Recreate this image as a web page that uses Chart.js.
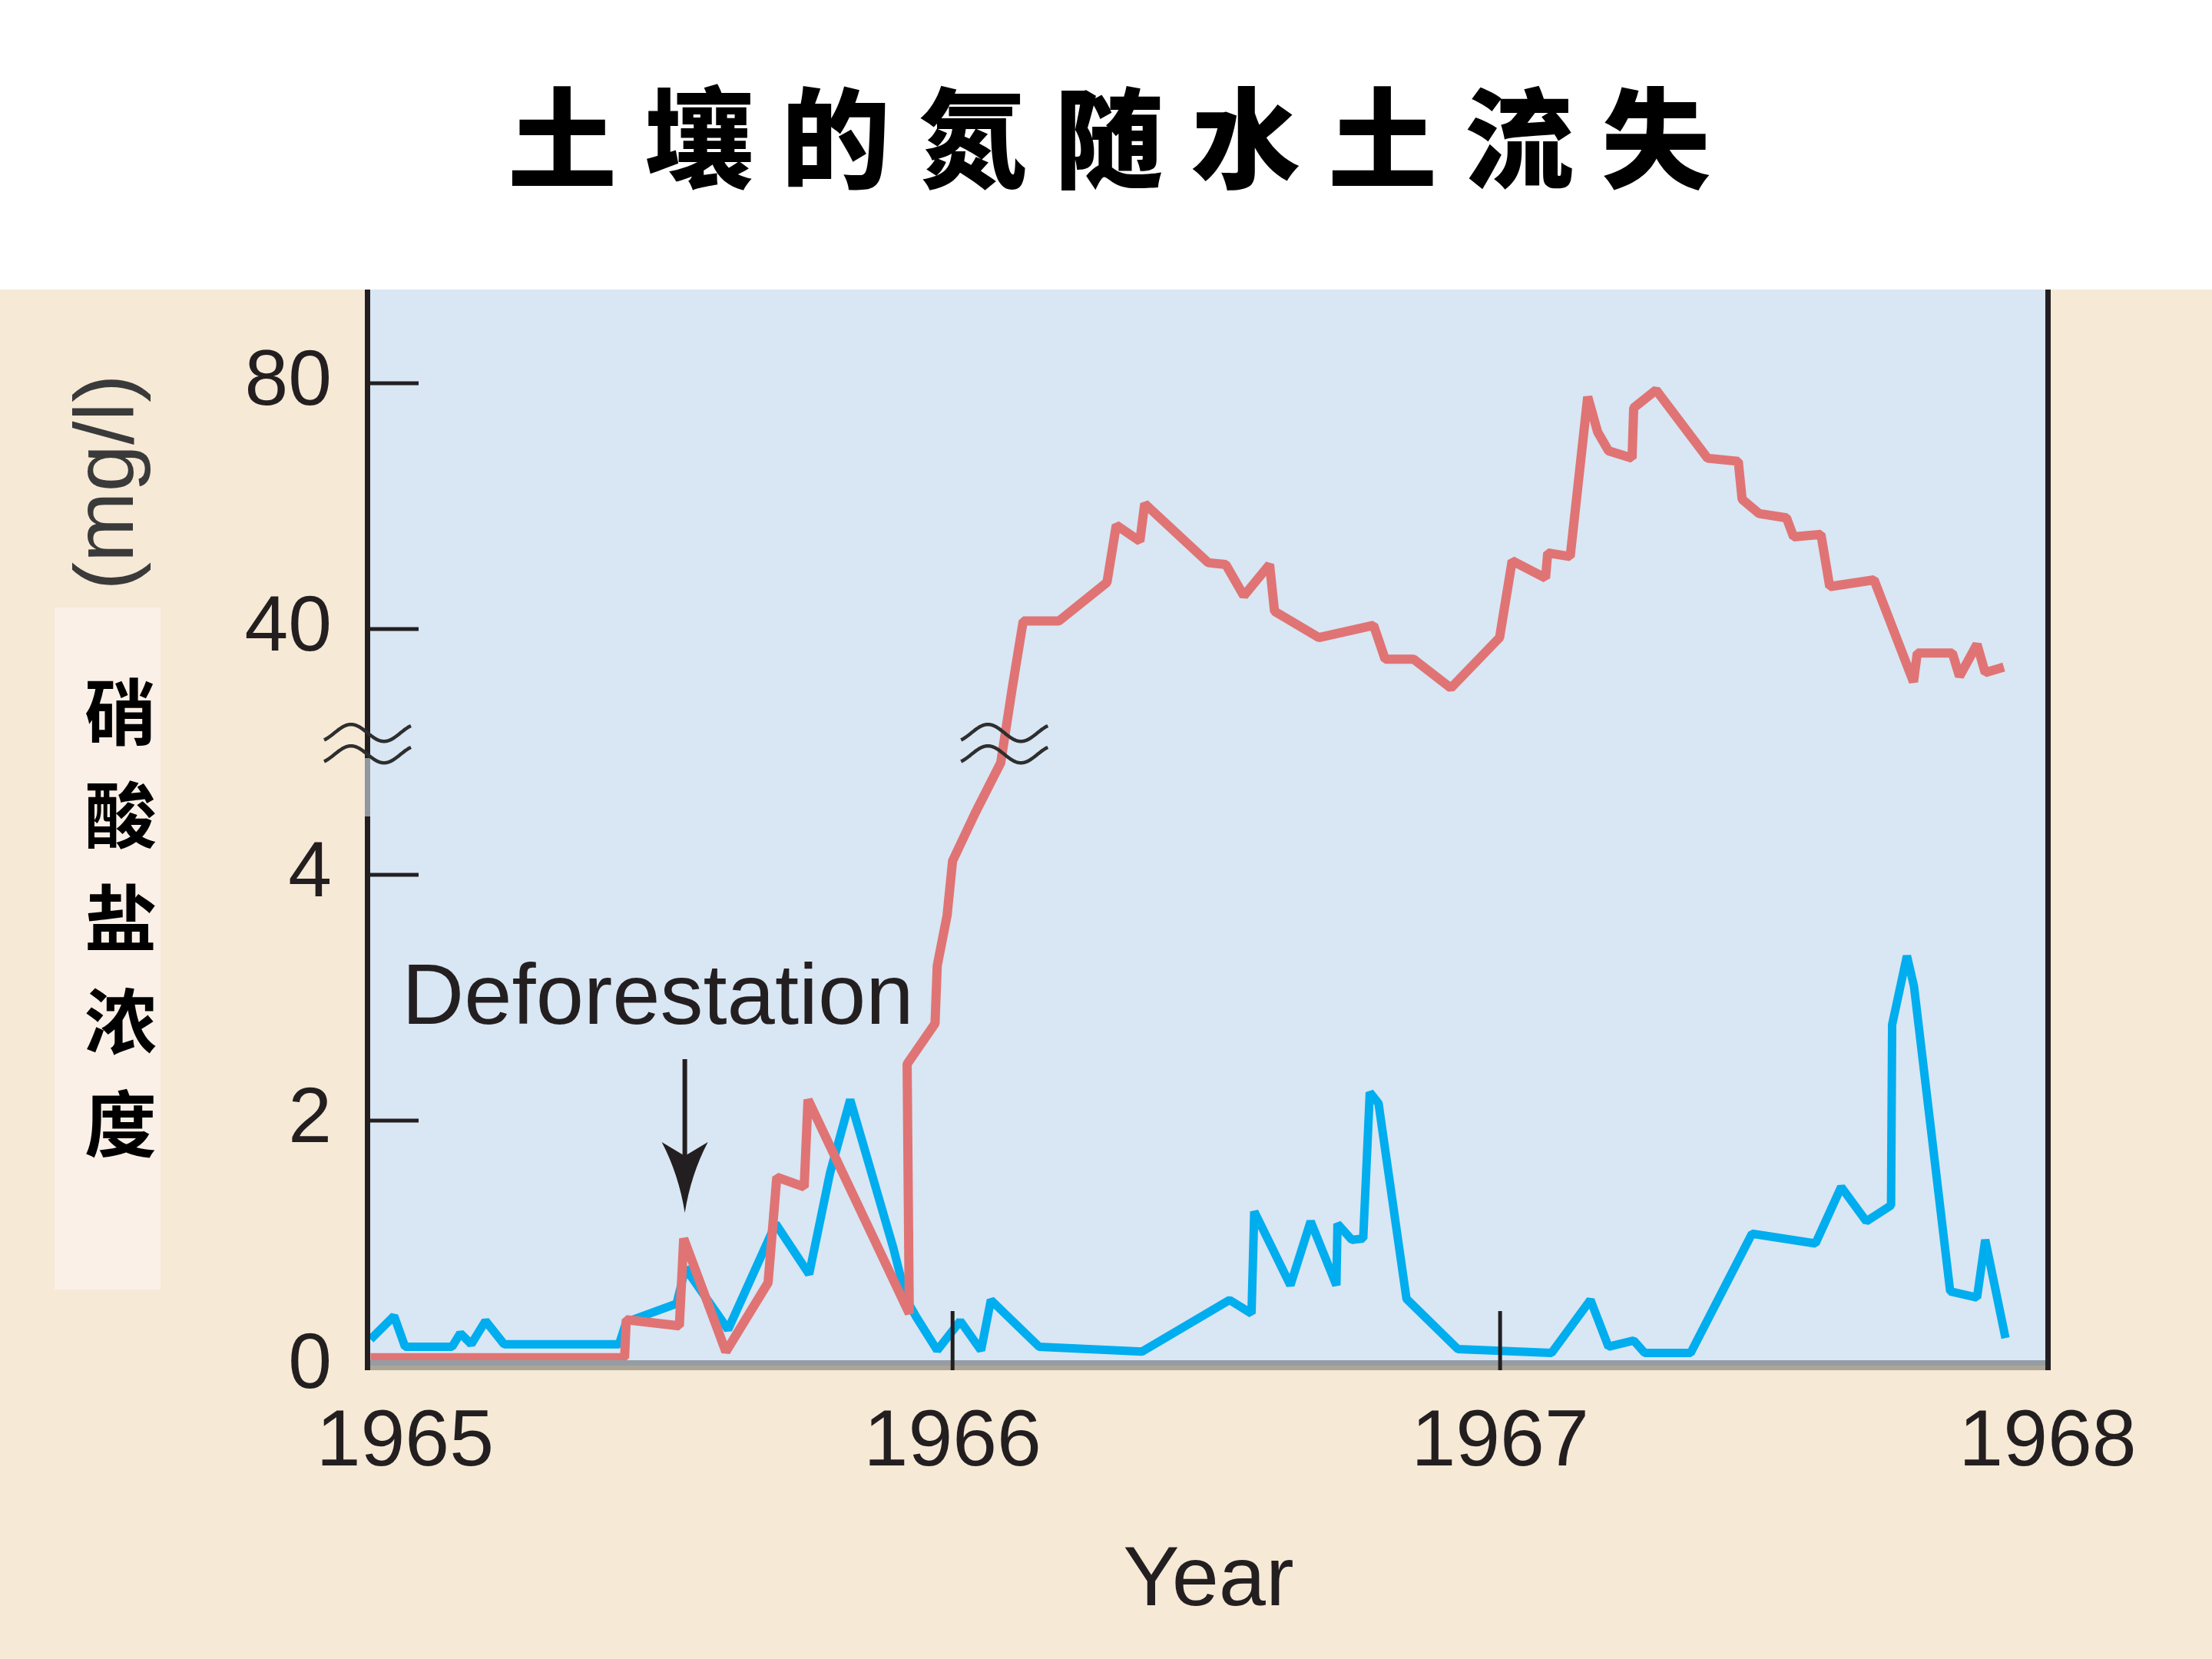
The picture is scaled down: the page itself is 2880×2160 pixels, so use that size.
<!DOCTYPE html>
<html>
<head>
<meta charset="utf-8">
<script src="https://cdn.jsdelivr.net/npm/chart.js@4.4.1/dist/chart.umd.min.js"></script>
<style>
html, body { margin: 0; padding: 0; background: #ffffff; }
canvas { display: block; }
</style>
</head>
<body>
<canvas id="c" width="2880" height="2160"></canvas>
<script>
// ---------------- data ----------------
const chartTitle = '土壤的氮随水土流失';
const yTitleUnit = '(mg/l)';
const yTitleChars = ['硝', '酸', '盐', '浓', '度'];
const xTitle = 'Year';
const annotationText = 'Deforestation';
const annotationYear = 1965.511;

const xTickYears = [1965, 1966, 1967, 1968];
const xMarkedYears = [1966, 1967];
const yTickValues = [0, 2, 4, 40, 80];
const yMarkedValues = [2, 4, 40, 80];

// deforested watershed (red)
const redYears = [1964.937, 1965.401, 1965.404, 1965.501, 1965.509, 1965.586, 1965.663, 1965.679, 1965.729, 1965.736,
  1965.921, 1965.917, 1965.968, 1965.972, 1965.990, 1966.000, 1966.041, 1966.088, 1966.109, 1966.129,
  1966.194, 1966.282, 1966.299, 1966.342, 1966.351, 1966.467, 1966.499, 1966.532, 1966.579, 1966.588,
  1966.669, 1966.769, 1966.790, 1966.842, 1966.910, 1966.999, 1967.022, 1967.083, 1967.087, 1967.128,
  1967.160, 1967.178, 1967.198, 1967.241, 1967.244, 1967.285, 1967.379, 1967.435, 1967.442, 1967.473,
  1967.523, 1967.536, 1967.586, 1967.602, 1967.683, 1967.755, 1967.762, 1967.826, 1967.839, 1967.871,
  1967.886, 1967.920];
const redValues = [0.07, 0.07, 0.38, 0.33, 1.04, 0.12, 0.68, 1.54, 1.46, 2.17,
  0.43, 2.46, 2.79, 3.26, 3.67, 5.8, 12, 18.6, 30.4, 41.3,
  41.3, 47.6, 56.9, 54.3, 60.4, 50.8, 50.5, 45.4, 50.5, 42.9,
  38.6, 40.6, 35.1, 35.1, 30.4, 38.6, 51.1, 48.3, 52.4, 51.8,
  77.8, 72.1, 69.0, 67.8, 76.0, 78.9, 67.8, 67.3, 61.1, 58.8,
  58.1, 55.0, 55.4, 46.9, 48.0, 31.4, 36.1, 36.1, 32.3, 37.5,
  32.9, 33.8];

// control watershed (blue)
const blueYears = [1964.937, 1964.980, 1965.000, 1965.086, 1965.101, 1965.121, 1965.147, 1965.181, 1965.391, 1965.404,
  1965.496, 1965.512, 1965.590, 1965.677, 1965.738, 1965.776, 1965.813, 1965.892, 1965.916, 1965.934,
  1965.972, 1966.014, 1966.052, 1966.070, 1966.158, 1966.346, 1966.506, 1966.546, 1966.551, 1966.617,
  1966.654, 1966.701, 1966.703, 1966.729, 1966.750, 1966.762, 1966.778, 1966.829, 1966.923, 1967.094,
  1967.165, 1967.198, 1967.244, 1967.264, 1967.348, 1967.460, 1967.576, 1967.623, 1967.669, 1967.714,
  1967.716, 1967.743, 1967.756, 1967.822, 1967.871, 1967.886, 1967.923];
const blueValues = [0.22, 0.41, 0.16, 0.16, 0.27, 0.18, 0.37, 0.18, 0.18, 0.36,
  0.51, 0.8, 0.3, 1.16, 0.75, 1.57, 2.17, 0.96, 0.54, 0.4,
  0.13, 0.37, 0.13, 0.54, 0.16, 0.12, 0.54, 0.43, 1.26, 0.66,
  1.18, 0.66, 1.16, 1.03, 1.04, 2.23, 2.14, 0.55, 0.14, 0.11,
  0.54, 0.16, 0.21, 0.11, 0.11, 1.08, 1.0, 1.46, 1.18, 1.31,
  2.78, 3.34, 3.09, 0.61, 0.56, 1.03, 0.23];

// broken y axis: 0..4 linear, break, then 40..80 on a compressed scale
function toAxis(v) {
  if (v <= 4) return v;
  if (v <= 20) return 4 + (v - 4) / 16;
  return 6 + (v - 40) / 20;
}

const FONT = '"Liberation Sans", Arial, Helvetica, sans-serif';
const INK = '#231f20';

function drawWave(ctx, cx, cy) {
  ctx.beginPath();
  for (let t = -56; t <= 57; t += 1) {
    const py = cy - 11 * Math.cos(Math.PI * (t + 21) / 43);
    if (t === -56) ctx.moveTo(cx + t, py); else ctx.lineTo(cx + t, py);
  }
  ctx.stroke();
}

const decor = {
  id: 'decor',
  beforeDraw(chart) {
    const { ctx, chartArea: a, width, height } = chart;
    ctx.save();
    ctx.fillStyle = '#f6e9d6';
    ctx.fillRect(0, 0, width, height);
    ctx.fillStyle = '#ffffff';
    ctx.fillRect(0, 0, width, a.top);
    ctx.fillStyle = '#faf0e7';
    ctx.fillRect(71, 791, 138, 888);
    ctx.fillStyle = '#d9e6f3';
    ctx.fillRect(a.left, a.top, a.right - a.left, a.bottom - a.top);
    ctx.restore();
  },
  afterDatasetsDraw(chart) {
    const { ctx, chartArea: a, scales } = chart;
    const x = scales.x, y = scales.y;
    const y0 = y.getPixelForValue(0);
    ctx.save();
    // bottom axis band
    ctx.fillStyle = '#959ca4';
    ctx.fillRect(a.left - 5, y0 - 8, a.right - a.left + 9, 7);
    ctx.fillStyle = '#aca596';
    ctx.fillRect(a.left - 5, y0 - 1, a.right - a.left + 9, 6);
    // left axis with break gap
    ctx.fillStyle = INK;
    ctx.fillRect(a.left - 6, a.top, 7, y0 + 5 - a.top);
    const gTop = y.getPixelForValue(4.95), gBot = y.getPixelForValue(4.475);
    ctx.fillStyle = '#8f979f';
    ctx.fillRect(a.left - 6, gTop, 7, gBot - gTop);
    // right border
    ctx.fillStyle = INK;
    ctx.fillRect(a.right - 3, a.top, 7, y0 + 5 - a.top);
    // tick marks (inside)
    yMarkedValues.forEach(v => {
      const py = y.getPixelForValue(toAxis(v));
      ctx.fillRect(a.left, py - 2.5, 64, 5);
    });
    xMarkedYears.forEach(v => {
      const px = x.getPixelForValue(v);
      ctx.fillRect(px - 2.5, y0 - 72, 5, 77);
    });
    // break symbols
    ctx.strokeStyle = '#2e2e2e';
    ctx.lineWidth = 4.5;
    const wy = y.getPixelForValue(5.155);
    [a.left - 3, x.getPixelForValue(1966.094)].forEach(cx => {
      drawWave(ctx, cx, wy);
      drawWave(ctx, cx, wy + 28);
    });
    // annotation arrow
    const ax = x.getPixelForValue(annotationYear);
    const aTop = y.getPixelForValue(2.5);
    const aTip = y.getPixelForValue(1.25);
    ctx.strokeStyle = INK;
    ctx.lineWidth = 6;
    ctx.beginPath();
    ctx.moveTo(ax, aTop);
    ctx.lineTo(ax, aTip - 60);
    ctx.stroke();
    ctx.fillStyle = INK;
    ctx.beginPath();
    ctx.moveTo(ax, aTip);
    ctx.quadraticCurveTo(ax - 8, aTip - 50, ax - 30, aTip - 92);
    ctx.lineTo(ax, aTip - 74);
    ctx.lineTo(ax + 30, aTip - 92);
    ctx.quadraticCurveTo(ax + 8, aTip - 50, ax, aTip);
    ctx.closePath();
    ctx.fill();
    // annotation text
    ctx.font = '112px ' + FONT;
    ctx.textAlign = 'left';
    ctx.textBaseline = 'alphabetic';
    ctx.fillText(annotationText, x.getPixelForValue(1965) - 4, y.getPixelForValue(2.79));
    ctx.restore();
  },
  afterDraw(chart) {
    const { ctx } = chart;
    ctx.save();
    // title
    ctx.fillStyle = '#000000';
    ctx.font = '900 142px "Noto Sans CJK SC"';
    ctx.textAlign = 'center';
    ctx.textBaseline = 'middle';
    const sp = 36;
    if ('letterSpacing' in ctx) ctx.letterSpacing = sp + 'px';
    ctx.fillText(chartTitle, 1444 + sp / 2, 180);
    if ('letterSpacing' in ctx) ctx.letterSpacing = '0px';
    // y unit (rotated)
    ctx.save();
    ctx.translate(143, 628);
    ctx.rotate(-Math.PI / 2);
    ctx.fillStyle = '#3a3a3a';
    ctx.font = '110px ' + FONT;
    ctx.fillText(yTitleUnit, 0, 0);
    ctx.restore();
    // vertical Chinese title
    ctx.fillStyle = '#000000';
    ctx.font = 'bold 94px "Noto Sans CJK SC"';
    yTitleChars.forEach((ch, i) => ctx.fillText(ch, 157, 927 + i * 134));
    ctx.restore();
  }
};

const ctx = document.getElementById('c').getContext('2d');
new Chart(ctx, {
  type: 'line',
  data: {
    datasets: [
      {
        label: 'Deforested',
        data: redYears.map((yr, i) => ({ x: yr, y: toAxis(redValues[i]) })),
        borderColor: '#e07474',
        borderWidth: 12,
        pointRadius: 0,
        tension: 0,
        fill: false,
        borderJoinStyle: 'bevel'
      },
      {
        label: 'Control',
        data: blueYears.map((yr, i) => ({ x: yr, y: toAxis(blueValues[i]) })),
        borderColor: '#00adee',
        borderWidth: 11,
        pointRadius: 0,
        tension: 0,
        fill: false,
        borderJoinStyle: 'bevel'
      }
    ]
  },
  options: {
    responsive: false,
    animation: false,
    devicePixelRatio: 1,
    layout: { padding: { top: 377, right: 214, left: 0, bottom: 0 } },
    plugins: {
      legend: { display: false },
      tooltip: { enabled: false },
      title: { display: false }
    },
    scales: {
      x: {
        type: 'linear',
        min: 1964.935,
        max: 1968,
        afterBuildTicks: s => { s.ticks = xTickYears.map(v => ({ value: v })); },
        afterFit: s => { s.height = 381; },
        grid: { display: false, drawTicks: false },
        border: { display: false },
        ticks: {
          callback: v => String(v),
          font: { family: FONT, size: 104 },
          color: INK,
          padding: 38,
          maxRotation: 0,
          autoSkip: false
        },
        title: {
          display: true,
          text: xTitle,
          font: { family: FONT, size: 110 },
          color: INK,
          padding: { top: 0, bottom: 34 }
        }
      },
      y: {
        type: 'linear',
        min: 0,
        max: 8.7625,
        afterBuildTicks: s => { s.ticks = yTickValues.map(v => ({ value: toAxis(v) })); },
        afterFit: s => { s.width = 481; },
        grid: { display: false, drawTicks: false },
        border: { display: false },
        ticks: {
          callback: v => {
            const i = yTickValues.findIndex(t => Math.abs(toAxis(t) - v) < 1e-6);
            return i >= 0 ? String(yTickValues[i]) : '';
          },
          font: { family: FONT, size: 102 },
          color: INK,
          padding: 49
        }
      }
    }
  },
  plugins: [decor]
});
</script>
</body>
</html>
